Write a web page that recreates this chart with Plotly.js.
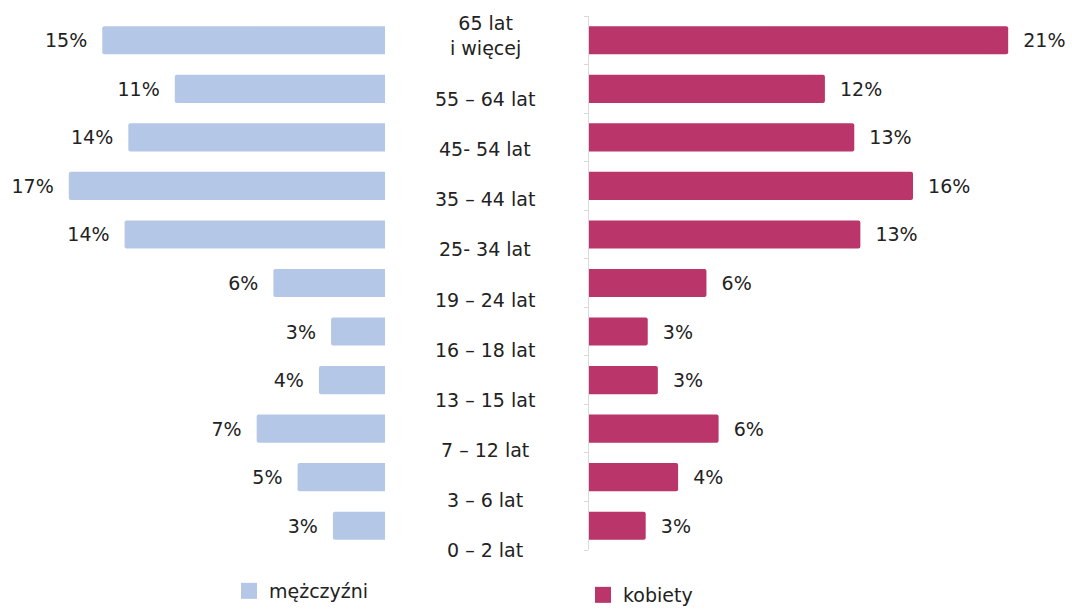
<!DOCTYPE html>
<html>
<head>
<meta charset="utf-8">
<script src="https://cdn.plot.ly/plotly-3.0.1.min.js"></script>
<style>html,body{margin:0;padding:0;background:#fff;}#chart{width:1072px;height:609px;}</style>
</head>
<body>
<div id="chart"></div>
<script>
// Categories, bottom to top
const ageGroups = ["0 – 2 lat", "3 – 6 lat", "7 – 12 lat", "13 – 15 lat", "16 – 18 lat",
  "19 – 24 lat", "25- 34 lat", "35 – 44 lat", "45- 54 lat", "55 – 64 lat", "65 lat<br>i więcej"];
const men   = [2.8, 4.7, 6.9, 3.55, 2.9, 6.0, 14.0, 17.0, 13.8, 11.3, 15.2];
const women = [2.8, 4.4, 6.4, 3.4, 2.9, 5.8, 13.4, 16.0, 13.1, 11.65, 20.7];
const menName = "mężczyźni";
const womenName = "kobiety";

const W = 1072, H = 609;
const FONT = "DejaVu Sans";
const TXT = "#222222";
const menColor = "#b4c7e7";
const womenColor = "#b9356a";

const plotTop = 16, plotBottom = 550;
const menZero = 385, womenZero = 589;
const menPxPer = 18.6, womenPxPer = 20.25;

const traces = [
  {
    type: "bar", orientation: "h", name: menName, showlegend: false,
    y: ageGroups, x: men, xaxis: "x", yaxis: "y",
    marker: {color: menColor, cornerradius: 2}, width: 0.58,
    texttemplate: "%{x:.0f}%\u00a0\u00a0", textposition: "outside", cliponaxis: false,
    constraintext: "none",
    textfont: {family: FONT, size: 19, color: TXT}, hoverinfo: "skip"
  },
  {
    type: "bar", orientation: "h", name: womenName, showlegend: false,
    y: ageGroups, x: women, xaxis: "x2", yaxis: "y",
    marker: {color: womenColor, cornerradius: 2}, width: 0.58,
    texttemplate: "\u00a0\u00a0%{x:.0f}%", textposition: "outside", cliponaxis: false,
    constraintext: "none",
    textfont: {family: FONT, size: 19, color: TXT}, hoverinfo: "skip"
  },
  {
    type: "scatter", mode: "markers", name: menName, x: [null], y: [null],
    xaxis: "x", yaxis: "y", legend: "legend",
    marker: {symbol: "square", size: 16, color: menColor}
  },
  {
    type: "scatter", mode: "markers", name: womenName, x: [null], y: [null],
    xaxis: "x2", yaxis: "y", legend: "legend2",
    marker: {symbol: "square", size: 16, color: womenColor}
  }
];

const plotH = plotBottom - plotTop;
const labelStep = 50.1;
const annotations = ageGroups.map((g, i) => ({
  text: g, xref: "paper", yref: "paper",
  x: 485 / W, y: (labelStep * i) / plotH,
  xanchor: "center", yanchor: "middle", showarrow: false,
  yshift: g.indexOf("<br>") >= 0 ? 14 : 0,
  font: {family: FONT, size: 19, color: TXT}, align: "center"
}));

const layout = {
  width: W, height: H,
  margin: {l: 0, r: 0, t: plotTop, b: H - plotBottom, pad: 0, autoexpand: false},
  paper_bgcolor: "#ffffff", plot_bgcolor: "rgba(0,0,0,0)",
  font: {family: FONT, size: 19, color: TXT},
  barmode: "overlay",
  xaxis: {
    domain: [0, menZero / W], range: [menZero / menPxPer, 0],
    showgrid: false, zeroline: false, showline: false, showticklabels: false, ticks: "",
    fixedrange: true
  },
  xaxis2: {
    domain: [womenZero / W, 1], range: [0, (W - womenZero) / womenPxPer],
    showgrid: false, zeroline: false, showline: false, showticklabels: false, ticks: "",
    fixedrange: true
  },
  yaxis: {
    anchor: "x2", type: "category", categoryorder: "array", categoryarray: ageGroups,
    range: [-0.5, ageGroups.length - 0.5],
    showgrid: false, zeroline: false, showline: true, linecolor: "#d9d9d9", linewidth: 1,
    ticks: "outside", ticklen: 4, tickcolor: "#d9d9d9", tickson: "boundaries",
    showticklabels: false, fixedrange: true
  },
  showlegend: true,
  legend: {
    x: 229 / W, xanchor: "left", y: (plotBottom - 591) / plotH, yanchor: "middle",
    bgcolor: "rgba(0,0,0,0)", borderwidth: 0,
    font: {family: FONT, size: 19, color: TXT}
  },
  legend2: {
    x: 583 / W, xanchor: "left", y: (plotBottom - 595) / plotH, yanchor: "middle",
    bgcolor: "rgba(0,0,0,0)", borderwidth: 0,
    font: {family: FONT, size: 19, color: TXT}
  },
  annotations: annotations
};

Plotly.newPlot("chart", traces, layout, {displayModeBar: false, staticPlot: true});
</script>
</body>
</html>
